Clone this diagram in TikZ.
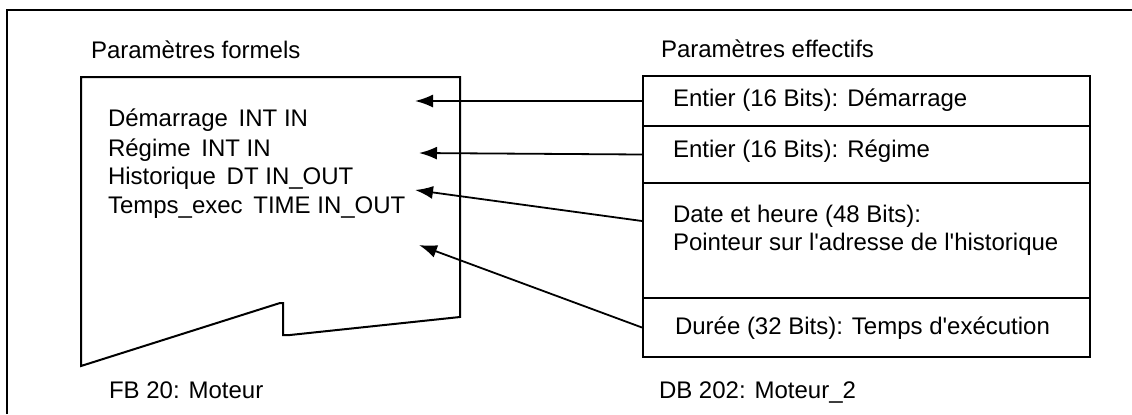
\documentclass[tikz,border=0pt]{standalone}
\usepackage{fontspec}
\setmainfont{Liberation Sans}[Ligatures=TeXOff]
\usetikzlibrary{arrows.meta}
\begin{document}
\begin{tikzpicture}[x=0.5pt,y=-0.5pt,
  lbl/.style={anchor=base west,inner sep=0pt,font=\fontsize{12pt}{14pt}\selectfont},
  cell/.style={draw,line width=1pt,rectangle,inner sep=0pt,minimum width=223.5pt,anchor=north west},
  conn/.style={line width=0.9pt,-{Latex[length=9pt,width=6.5pt]}},
  every path/.style={line width=1pt}]
\useasboundingbox (0,0) rectangle (1132,414);
% outer frame (open)
\draw (7,414) -- (7,10) -- (1132,10);
% formal parameters block
\draw[line join=miter] (460,77) -- (81,77) -- (81,366) -- (280,303) -- (283,303) -- (283,335) -- (290,335) -- (460,317) -- cycle;
\node[lbl] (tf) at (90,58) {Paramètres formels};
\node[lbl] (f1) at (107,126) {Démarrage\, INT IN};
\node[lbl] (f2) at (107,156) {Régime\, INT IN};
\node[lbl] (f3) at (107,184) {Historique\, DT IN\_OUT};
\node[lbl] (f4) at (107,213) {Temps\_exec\, TIME IN\_OUT};
\node[lbl] (fb) at (108,398) {FB 20: Moteur};
% actual parameters table
\node[cell,minimum height=25pt] (r1) at (642,75) {};
\node[cell,minimum height=28.5pt] (r2) at (642,125) {};
\node[cell,minimum height=57.5pt] (r3) at (642,182) {};
\node[cell,minimum height=29.5pt] (r4) at (642,297) {};
\node[lbl] (te) at (660,57) {Paramètres effectifs};
\node[lbl] (e1) at (672,106) {Entier (16 Bits): Démarrage};
\node[lbl] (e2) at (672,157) {Entier (16 Bits): Régime};
\node[lbl] (e3) at (672,222) {Date et heure (48 Bits):};
\node[lbl] (e3b) at (672,250) {Pointeur sur l'adresse de l'historique};
\node[lbl] (e4) at (674,334) {Durée (32 Bits): Temps d'exécution};
\node[lbl] (db) at (658,398) {DB 202: Moteur\_2};
% arrow targets
\coordinate (t1) at (415,101);
\coordinate (t2) at (419,153);
\coordinate (t3) at (415,190);
\coordinate (t4) at (419,245);
\coordinate (s3) at (642,221);
\draw[conn] (r1.west) -- (t1);
\draw[conn] (r2.west) -- (t2);
\draw[conn] (s3) -- (t3);
\draw[conn] (r4.west) -- (t4);
\end{tikzpicture}
\end{document}
